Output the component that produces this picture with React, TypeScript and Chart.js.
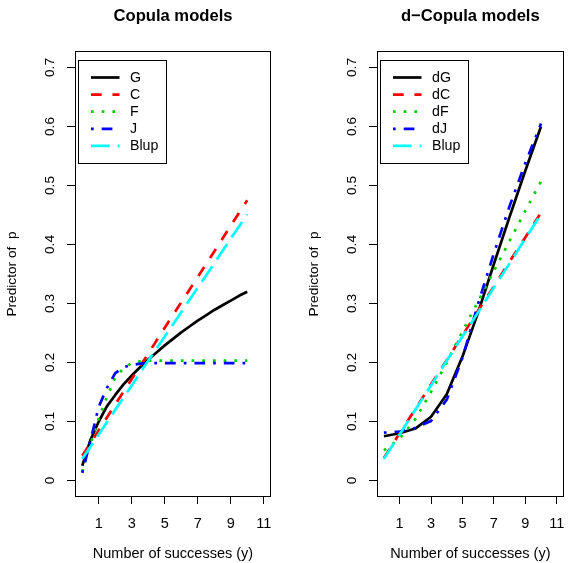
import React, { useEffect, useRef } from "react";
import { Chart, registerables } from "chart.js";

Chart.register(...registerables);

// ---------- data ----------
const xFine = [0, 0.5, 1, 1.5, 2, 2.5, 3, 3.5, 4, 4.5, 5, 5.5, 6, 6.5, 7, 7.5, 8, 8.5, 9, 9.5, 10];
const xInt = [0, 1, 2, 3, 4, 5, 6, 7, 8, 9, 10];

// Copula models (left panel)
const gValues = [0.025, 0.069, 0.1, 0.126, 0.145, 0.163, 0.178, 0.192, 0.205, 0.217, 0.229, 0.24, 0.251, 0.261, 0.271, 0.28, 0.289, 0.297, 0.305, 0.313, 0.32];
const cValues = [0.042, 0.085, 0.129, 0.172, 0.215, 0.259, 0.302, 0.345, 0.388, 0.432, 0.475];
const fValues = [0.015, 0.062, 0.105, 0.142, 0.174, 0.19, 0.199, 0.202, 0.203, 0.203, 0.203, 0.203, 0.203, 0.203, 0.203, 0.203, 0.203, 0.203, 0.203, 0.203, 0.203];
const jValues = [0.013, 0.068, 0.125, 0.157, 0.182, 0.192, 0.196, 0.198, 0.199, 0.199, 0.199, 0.199, 0.199, 0.199, 0.199, 0.199, 0.199, 0.199, 0.199, 0.199, 0.199];
const blupValues = [0.037, 0.078, 0.12, 0.161, 0.203, 0.244, 0.285, 0.327, 0.368, 0.41, 0.451];

// d-Copula models (right panel)
const dgValues = [0.075, 0.08, 0.088, 0.108, 0.146, 0.21, 0.285, 0.367, 0.447, 0.525, 0.6];
const dcValues = [0.038, 0.08, 0.121, 0.163, 0.204, 0.246, 0.288, 0.329, 0.371, 0.412, 0.454];
const dfValues = [0.051, 0.071, 0.104, 0.15, 0.2, 0.253, 0.304, 0.355, 0.406, 0.457, 0.507];
const djValues = [0.081, 0.083, 0.089, 0.101, 0.137, 0.208, 0.3, 0.385, 0.465, 0.538, 0.605];

const xTicks = [1, 3, 5, 7, 9, 11];
const yTicks = [0, 0.1, 0.2, 0.3, 0.4, 0.5, 0.6, 0.7];

const leftLabels = ["G", "C", "F", "J", "Blup"];
const rightLabels = ["dG", "dC", "dF", "dJ", "Blup"];
const leftTitle = "Copula models";
const rightTitle = "d\u2212Copula models";
const xTitle = "Number of successes (y)";
const yTitle = "Predictor of  p";

// ---------- styles ----------
const FONT = "'Liberation Sans', Arial, Helvetica, sans-serif";
const seriesColors = ["#000000", "#FF0000", "#00CD00", "#0000FF", "#00FFFF"];
const seriesDashes: number[][] = [[], [10.7, 10.7], [2.7, 8], [2.7, 8, 10.7, 8], [18.7, 8]];
const LW = 2.7;

function makeDatasets(labels: string[], xs: number[][], ys: number[][]) {
  return labels.map((label, i) => ({
    label,
    data: xs[i].map((x, k) => ({ x, y: ys[i][k] })),
    borderColor: seriesColors[i],
    backgroundColor: seriesColors[i],
    borderWidth: LW,
    borderDash: seriesDashes[i],
    borderCapStyle: "butt" as const,
    borderJoinStyle: "round" as const,
    pointRadius: 0,
    pointHoverRadius: 0,
    fill: false,
    tension: 0,
    order: labels.length - i,
  }));
}

const boxPlugin = {
  id: "rBox",
  afterDatasetsDraw(chart: any) {
    const { ctx, chartArea } = chart;
    ctx.save();
    ctx.strokeStyle = "#000";
    ctx.lineWidth = 1;
    ctx.setLineDash([]);
    const l = Math.round(chartArea.left) + 0.5;
    const t = Math.round(chartArea.top) + 0.5;
    const r = Math.round(chartArea.right) - 0.5;
    const b = Math.round(chartArea.bottom) - 0.5;
    ctx.strokeRect(l, t, r - l, b - t);
    ctx.restore();
  },
};

const legendPlugin = {
  id: "rLegend",
  afterDatasetsDraw(chart: any) {
    const { ctx, chartArea } = chart;
    const bx = Math.round(chartArea.left + 3) + 0.5;
    const by = Math.round(chartArea.top + 9) + 0.5;
    const bw = 88;
    const bh = 103;
    ctx.save();
    ctx.fillStyle = "#fff";
    ctx.fillRect(bx, by, bw, bh);
    ctx.strokeStyle = "#000";
    ctx.lineWidth = 1;
    ctx.setLineDash([]);
    ctx.strokeRect(bx, by, bw, bh);
    const ds = chart.data.datasets;
    ds.forEach((d: any, i: number) => {
      const cy = by + 17 + 17.1 * i;
      ctx.beginPath();
      ctx.strokeStyle = d.borderColor;
      ctx.lineWidth = d.borderWidth;
      ctx.lineCap = "butt";
      ctx.setLineDash(d.borderDash || []);
      ctx.moveTo(bx + 12.5, cy);
      ctx.lineTo(bx + 41, cy);
      ctx.stroke();
      ctx.setLineDash([]);
      ctx.fillStyle = "#000";
      ctx.font = `14.2px ${FONT}`;
      ctx.textBaseline = "middle";
      ctx.textAlign = "left";
      ctx.fillText(d.label, bx + 51.5, cy + 0.5);
    });
    ctx.restore();
  },
};

function makeOptions(title: string, padRight: number) {
  return {
    responsive: false,
    animation: false as const,
    events: [] as any[],
    layout: { padding: { left: 0, right: padRight, top: 0, bottom: 0 } },
    plugins: {
      legend: { display: false },
      tooltip: { enabled: false },
      title: {
        display: true,
        text: title,
        fullSize: false,
        align: "center" as const,
        color: "#000",
        font: { family: FONT, size: 16.6, weight: "bold" as const, lineHeight: 1.2 },
        padding: { top: 6, bottom: 25.08 },
      },
    },
    scales: {
      x: {
        type: "linear" as const,
        min: -0.44,
        max: 11.44,
        afterBuildTicks: (s: any) => {
          s.ticks = xTicks.map((v) => ({ value: v }));
        },
        afterFit: (s: any) => {
          s.height = 66;
        },
        border: { display: false },
        grid: { drawOnChartArea: false, drawTicks: true, tickLength: 7, color: "#000", lineWidth: 1 },
        ticks: {
          autoSkip: false,
          minRotation: 0,
          maxRotation: 0,
          color: "#000",
          padding: 11.3,
          font: { family: FONT, size: 14.5, lineHeight: 1.2 },
          callback: (v: any) => String(v),
        },
        title: {
          display: true,
          text: xTitle,
          color: "#000",
          font: { family: FONT, size: 14.5, lineHeight: 1.2 },
          padding: { top: 0, bottom: 0.3 },
        },
      },
      y: {
        type: "linear" as const,
        min: -0.028,
        max: 0.728,
        afterBuildTicks: (s: any) => {
          s.ticks = yTicks.map((v) => ({ value: v }));
        },
        afterFit: (s: any) => {
          s.width = 75;
        },
        border: { display: false },
        grid: { drawOnChartArea: false, drawTicks: true, tickLength: 8, color: "#000", lineWidth: 1 },
        ticks: {
          autoSkip: false,
          minRotation: 90,
          maxRotation: 90,
          crossAlign: "center" as const,
          color: "#000",
          padding: 7,
          font: { family: FONT, size: 13.7, lineHeight: 1.2 },
          callback: (v: any) => (v === 0 ? "0" : Number(v).toFixed(1)),
        },
        title: {
          display: true,
          text: yTitle,
          color: "#000",
          font: { family: FONT, size: 13.7, lineHeight: 1.2 },
          padding: { top: 4.3, bottom: 0 },
        },
      },
    },
  };
}

export default function App() {
  const leftRef = useRef<HTMLCanvasElement | null>(null);
  const rightRef = useRef<HTMLCanvasElement | null>(null);

  useEffect(() => {
    if (!leftRef.current || !rightRef.current) return;
    const left = new Chart(leftRef.current, {
      type: "line",
      data: {
        datasets: makeDatasets(
          leftLabels,
          [xFine, xInt, xFine, xFine, xInt],
          [gValues, cValues, fValues, jValues, blupValues]
        ) as any,
      },
      options: makeOptions(leftTitle, 17) as any,
      plugins: [boxPlugin, legendPlugin],
    });
    const right = new Chart(rightRef.current, {
      type: "line",
      data: {
        datasets: makeDatasets(
          rightLabels,
          [xInt, xInt, xInt, xInt, xInt],
          [dgValues, dcValues, dfValues, djValues, blupValues]
        ) as any,
      },
      options: makeOptions(rightTitle, 3) as any,
      plugins: [boxPlugin, legendPlugin],
    });
    return () => {
      left.destroy();
      right.destroy();
    };
  }, []);

  return (
    <div
      style={{
        position: "absolute",
        left: 0,
        top: 0,
        width: 576,
        height: 563,
        overflow: "hidden",
        background: "#fff",
      }}
    >
      <canvas
        ref={leftRef}
        width={288}
        height={563}
        style={{ position: "absolute", left: 0, top: 0, width: 288, height: 563 }}
      />
      <canvas
        ref={rightRef}
        width={274}
        height={563}
        style={{ position: "absolute", left: 302, top: 0, width: 274, height: 563 }}
      />
    </div>
  );
}
